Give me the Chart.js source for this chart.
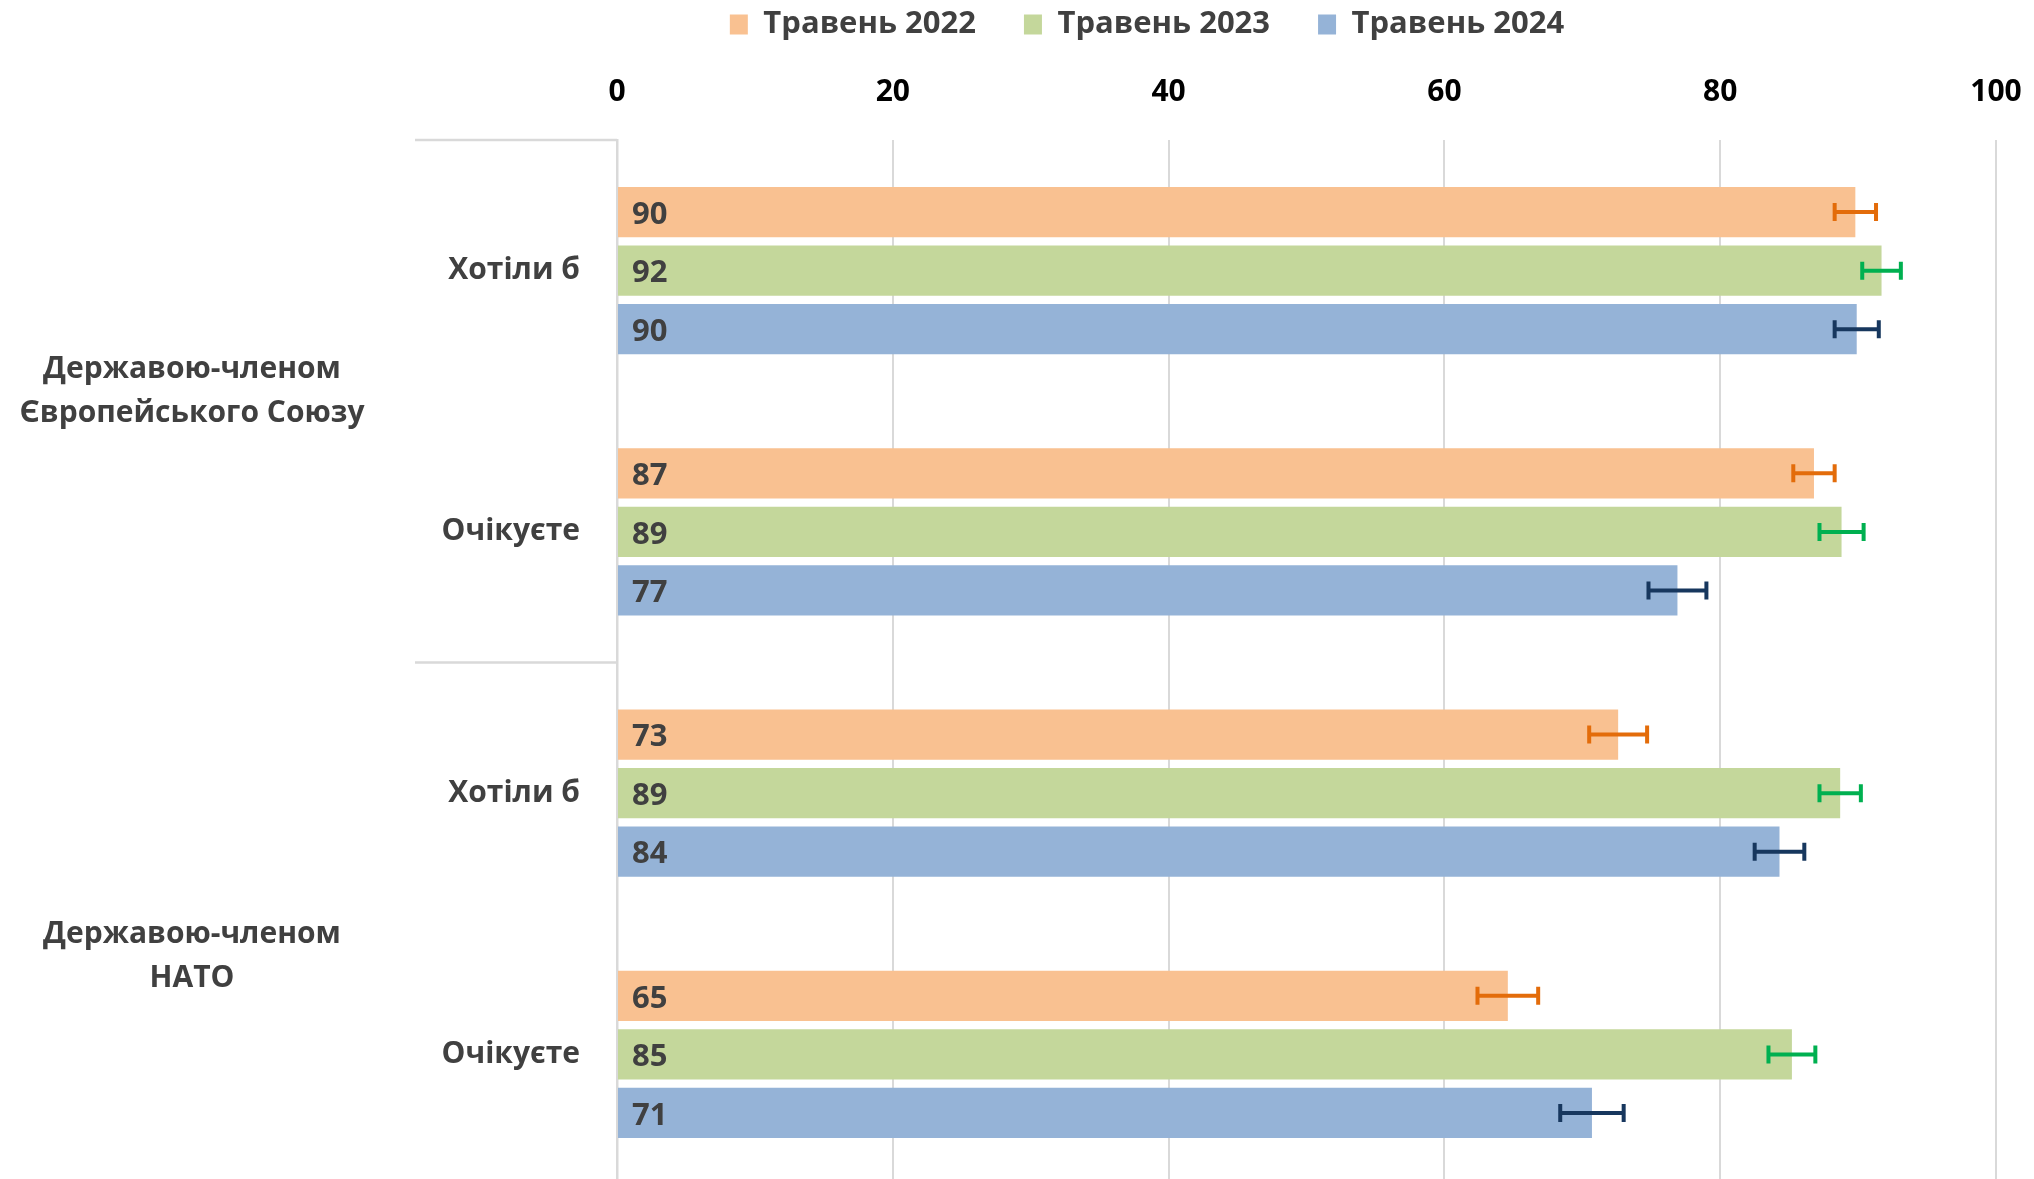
<!DOCTYPE html>
<html>
<head>
<meta charset="utf-8">
<script src="https://cdn.jsdelivr.net/npm/chart.js@4.4.1/dist/chart.umd.min.js"></script>
<style>
  html, body { margin: 0; padding: 0; background: #fff; overflow: hidden; }
  canvas { display: block; }
</style>
</head>
<body>
<canvas id="bar-chart" width="2034" height="1185"></canvas>
<script>
// categories (inner) and outer groups
const categories = ['Хотіли б', 'Очікуєте', 'Хотіли б', 'Очікуєте'];
const groupLabels = [['Державою-членом', 'Європейського Союзу'], ['Державою-членом', 'НАТО']];
const groupSize = 2;

const seriesNames = ['Травень 2022', 'Травень 2023', 'Травень 2024'];
const may2022 = [89.8, 86.8, 72.6, 64.6];
const may2023 = [91.7, 88.8, 88.7, 85.2];
const may2024 = [89.9, 76.9, 84.3, 70.7];

// error margins (+/-)
const err2022 = [1.5, 1.5, 2.1, 2.2];
const err2023 = [1.4, 1.6, 1.5, 1.7];
const err2024 = [1.6, 2.1, 1.8, 2.3];

const xTicks = [0, 20, 40, 60, 80, 100];

const barColors = ['#F9C191', '#C4D79B', '#95B3D7'];
const errColors = ['#E36C0A', '#00B050', '#17375E'];
const textColor = '#404040';
const gridColor = '#D9D9D9';
const fontFamily = '"Open Sans", "DejaVu Sans", sans-serif';

const seriesValues = [may2022, may2023, may2024];
const seriesErrors = [err2022, err2023, err2024];

const extrasPlugin = {
  id: 'extras',
  afterLayout(chart) {
    // legend sits right of centre in the original
    chart.legend.left += 298;
  },
  afterDatasetsDraw(chart) {
    const { ctx, chartArea } = chart;
    const xs = chart.scales.x;
    const ys = chart.scales.y;

    // error bars
    chart.data.datasets.forEach((ds, di) => {
      const meta = chart.getDatasetMeta(di);
      meta.data.forEach((bar, i) => {
        const v = ds.data[i];
        const e = seriesErrors[di][i];
        const x1 = xs.getPixelForValue(v - e);
        const x2 = xs.getPixelForValue(v + e);
        const y = bar.y;
        ctx.save();
        ctx.strokeStyle = errColors[di];
        ctx.lineWidth = 4;
        ctx.beginPath();
        ctx.moveTo(x1, y); ctx.lineTo(x2, y);
        ctx.moveTo(x1, y - 9); ctx.lineTo(x1, y + 9);
        ctx.moveTo(x2, y - 9); ctx.lineTo(x2, y + 9);
        ctx.stroke();
        ctx.restore();
      });
    });

    // value labels inside the bars
    ctx.save();
    ctx.font = 'bold 31px ' + fontFamily;
    ctx.fillStyle = textColor;
    ctx.textAlign = 'left';
    ctx.textBaseline = 'middle';
    chart.data.datasets.forEach((ds, di) => {
      const meta = chart.getDatasetMeta(di);
      meta.data.forEach((bar, i) => {
        ctx.fillText(String(Math.round(ds.data[i])), xs.getPixelForValue(0) + 15, bar.y + 3);
      });
    });
    ctx.restore();

    // group separators and outer labels
    ctx.save();
    ctx.strokeStyle = gridColor;
    ctx.lineWidth = 2.5;
    const sepLeft = 415;
    const bounds = [];
    for (let g = 0; g <= groupLabels.length; g++) {
      let y;
      if (g === 0) y = chartArea.top;
      else if (g === groupLabels.length) y = chartArea.bottom;
      else y = (ys.getPixelForValue(g * groupSize - 1) + ys.getPixelForValue(g * groupSize)) / 2;
      bounds.push(y);
      ctx.beginPath();
      ctx.moveTo(sepLeft, y);
      ctx.lineTo(chartArea.left, y);
      ctx.stroke();
    }
    ctx.font = 'bold 30px ' + fontFamily;
    ctx.fillStyle = textColor;
    ctx.textAlign = 'center';
    ctx.textBaseline = 'middle';
    const labelShift = [-10, 33];
    groupLabels.forEach((lines, g) => {
      const cy = (bounds[g] + bounds[g + 1]) / 2 + labelShift[g];
      lines.forEach((line, li) => {
        ctx.fillText(line, 192, cy + (li - (lines.length - 1) / 2) * 44);
      });
    });
    ctx.restore();
  }
};

const ctx = document.getElementById('bar-chart').getContext('2d');

const config = {
  type: 'bar',
  data: {
    labels: categories,
    datasets: seriesNames.map((name, i) => ({
      label: name,
      data: seriesValues[i],
      backgroundColor: barColors[i],
      borderWidth: 0,
      categoryPercentage: 0.672,
      barPercentage: 0.86,
    })),
  },
  options: {
    indexAxis: 'y',
    responsive: false,
    devicePixelRatio: 1,
    animation: false,
    layout: {
      padding: { top: -39, right: 38, bottom: 0, left: 0 },
    },
    plugins: {
      legend: {
        position: 'top',
        labels: {
          color: textColor,
          font: { family: fontFamily, size: 31, weight: 'bold' },
          boxWidth: 18,
          boxHeight: 20,
          padding: 48,
        },
      },
      tooltip: { enabled: false },
    },
    scales: {
      x: {
        position: 'top',
        min: 0,
        max: 100,
        afterFit(scale) {
          scale.height = 90;
          scale.paddingLeft = 0;
          scale.paddingRight = 0;
        },
        afterBuildTicks(scale) { scale.ticks = xTicks.map(v => ({ value: v })); },
        grid: {
          color: gridColor,
          lineWidth: 2,
          drawTicks: false,
        },
        border: { display: false },
        ticks: {
          color: '#000',
          padding: 30,
          font: { family: fontFamily, size: 30, weight: 'bold' },
        },
      },
      y: {
        afterFit(scale) {
          scale.width = 617;
          scale.paddingTop = 0;
          scale.paddingBottom = 0;
        },
        grid: { display: false, drawTicks: false },
        border: { display: true, color: gridColor, width: 2.5 },
        ticks: {
          color: textColor,
          padding: 37,
          font: { family: fontFamily, size: 30, weight: 'bold' },
        },
      },
    },
  },
  plugins: [extrasPlugin],
};

window.myBar = new Chart(ctx, config);
</script>
</body>
</html>
